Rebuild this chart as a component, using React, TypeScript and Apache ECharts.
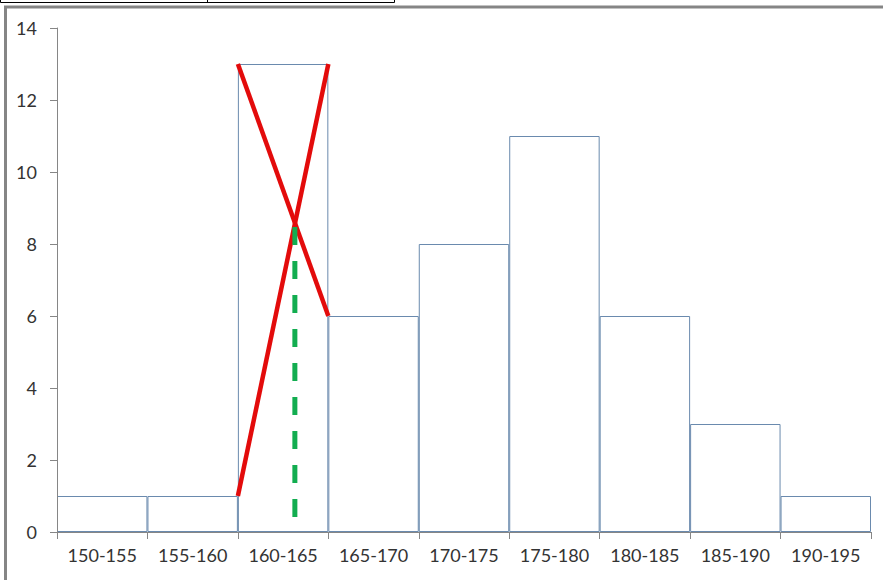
import React, { useEffect, useRef } from "react";
import * as echarts from "echarts";

const categories = ["150-155", "155-160", "160-165", "165-170", "170-175", "175-180", "180-185", "185-190", "190-195"];
const counts = [1, 1, 13, 6, 8, 11, 6, 3, 1];
const yTicks = { min: 0, max: 14, interval: 2 };
const heightRange = { min: 150, max: 195 };
const redLineA: [number, number][] = [[160, 1], [165, 13]];
const redLineB: [number, number][] = [[160, 13], [165, 6]];
const modeLine: [number, number][] = [[163.15, 0.42], [163.15, 8.6]];

export default function App() {
  const ref = useRef<HTMLDivElement>(null);
  useEffect(() => {
    if (!ref.current) return;
    const chart = echarts.init(ref.current, null, { renderer: "svg" });
    const font = "Lato, 'Open Sans', sans-serif";
    chart.setOption({
      animation: false,
      backgroundColor: "#ffffff",
      grid: { left: 57, right: 12, top: 28, bottom: 48, containLabel: false },
      xAxis: [
        {
          type: "category",
          data: categories,
          boundaryGap: true,
          z: 5,
          axisLine: { show: true, lineStyle: { color: "#868686", width: 1 } },
          axisTick: { show: true, length: 7, interval: 0, alignWithLabel: false, lineStyle: { color: "#868686" } },
          axisLabel: { color: "#333333", fontSize: 18, fontFamily: font, margin: 14, interval: 0 },
          splitLine: { show: false },
        },
        {
          type: "value",
          min: heightRange.min,
          max: heightRange.max,
          show: false,
        },
      ],
      yAxis: {
        type: "value",
        min: yTicks.min,
        max: yTicks.max,
        interval: yTicks.interval,
        z: 5,
        axisLine: { show: true, lineStyle: { color: "#868686", width: 1 } },
        axisTick: { show: true, length: 7, lineStyle: { color: "#868686" } },
        axisLabel: { color: "#333333", fontSize: 18, fontFamily: font, margin: 20 },
        splitLine: { show: false },
      },
      graphic: [
        { type: "rect", shape: { x: 0.5, y: -10, width: 394, height: 12.5 }, style: { fill: "none", stroke: "#000", lineWidth: 1 }, z: 10 },
        { type: "line", shape: { x1: 207.5, y1: 0, x2: 207.5, y2: 2.5 }, style: { stroke: "#000", lineWidth: 1 }, z: 10 },
        { type: "line", shape: { x1: 4, y1: 7, x2: 883, y2: 7 }, style: { stroke: "#858585", lineWidth: 3 }, z: 10 },
        { type: "line", shape: { x1: 5.5, y1: 6, x2: 5.5, y2: 580 }, style: { stroke: "#858585", lineWidth: 3 }, z: 10 },
      ],
      series: [
        {
          type: "bar",
          data: counts,
          xAxisIndex: 0,
          barWidth: "100%",
          barCategoryGap: "0%",
          itemStyle: { color: "#ffffff", borderColor: "#6a8aae", borderWidth: 1 },
          z: 2,
        },
        {
          type: "line",
          xAxisIndex: 1,
          data: redLineA,
          symbol: "none",
          lineStyle: { color: "#e30b0b", width: 4.5 },
          z: 6,
        },
        {
          type: "line",
          xAxisIndex: 1,
          data: redLineB,
          symbol: "none",
          lineStyle: { color: "#e30b0b", width: 4.5 },
          z: 6,
        },
        {
          type: "line",
          xAxisIndex: 1,
          data: modeLine,
          symbol: "none",
          lineStyle: { color: "#12ad50", width: 5, type: [18, 16] },
          z: 7,
        },
      ],
    });
    return () => chart.dispose();
  }, []);
  return <div ref={ref} style={{ position: "absolute", left: 0, top: 0, width: 883, height: 580 }} />;
}
